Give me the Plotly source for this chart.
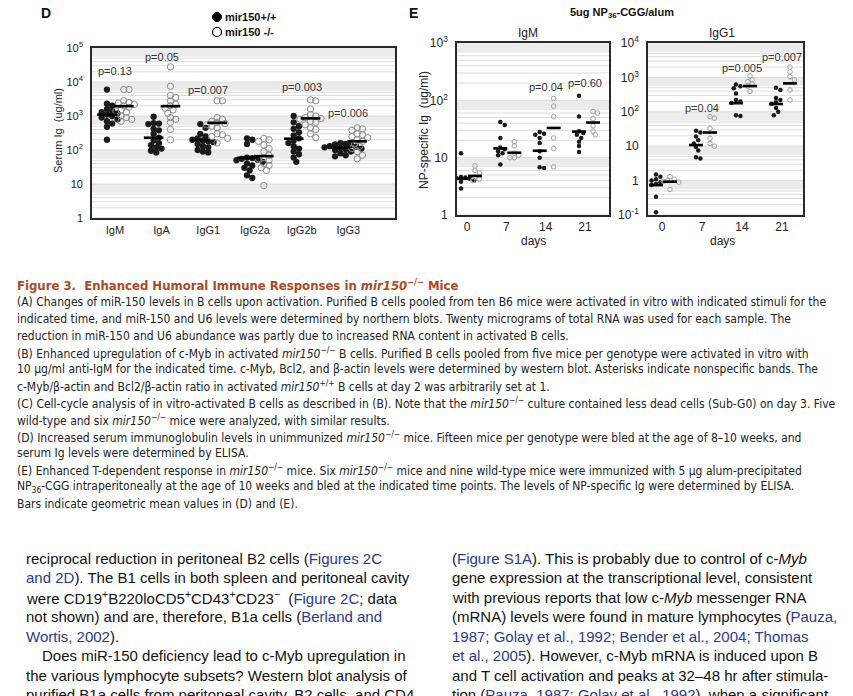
import numpy as np
import plotly.graph_objects as go

W, H = 853, 696

def px(x):
    return x / W

def py(y):
    return 1 - y / H

# ---------------- Panel D data (serum Ig, ug/ml) ----------------
d_categories = ["IgM", "IgA", "IgG1", "IgG2a", "IgG2b", "IgG3"]

d_wt_IgM = [6000, 2300, 2000, 1600, 1400, 1300, 1200, 1100, 1000, 900, 800, 700, 600, 480, 200]
d_ko_IgM = [6000, 6000, 2800, 2500, 2400, 2200, 2000, 1800, 1500, 1400, 1300, 1000, 900, 800, 700]
d_wt_IgA = [950, 620, 600, 580, 420, 380, 300, 230, 190, 160, 140, 120, 110, 95, 85]
d_ko_IgA = [28000, 7500, 4000, 3500, 2800, 2200, 2000, 1700, 1500, 1200, 900, 800, 650, 400, 200]
d_wt_IgG1 = [580, 450, 300, 250, 220, 200, 190, 180, 170, 150, 130, 120, 100, 90, 85]
d_ko_IgG1 = [2800, 2800, 900, 800, 700, 650, 600, 550, 500, 450, 300, 280, 250, 220, 160]
d_wt_IgG2a = [220, 200, 150, 60, 58, 55, 52, 50, 45, 40, 35, 30, 25, 18, 15]
d_ko_IgG2a = [220, 200, 180, 140, 110, 90, 70, 60, 55, 50, 40, 35, 30, 25, 9]
d_wt_IgG2b = [1000, 650, 500, 420, 330, 270, 220, 190, 160, 130, 110, 90, 75, 60, 45]
d_ko_IgG2b = [3000, 2800, 1600, 1100, 1000, 900, 850, 800, 700, 650, 550, 450, 400, 300, 230]
d_wt_IgG3 = [160, 150, 145, 140, 130, 125, 120, 115, 110, 105, 100, 90, 80, 70, 65]
d_ko_IgG3 = [450, 420, 380, 300, 280, 250, 230, 200, 180, 150, 130, 110, 90, 70, 55]

d_wt_means = [1100, 230, 195, 59, 215, 117]
d_ko_means = [1950, 1950, 630, 66, 850, 180]

d_p_labels = ["p=0.13", "p=0.05", "p=0.007", "", "p=0.003", "p=0.006"]
d_p_pos = [21000, 55000, 5800, None, 7100, 1230]

d_wt_groups = [d_wt_IgM, d_wt_IgA, d_wt_IgG1, d_wt_IgG2a, d_wt_IgG2b, d_wt_IgG3]
d_ko_groups = [d_ko_IgM, d_ko_IgA, d_ko_IgG1, d_ko_IgG2a, d_ko_IgG2b, d_ko_IgG3]

# ---------------- Panel E data (NP-specific Ig, ug/ml) ----------------
e_days = ["0", "7", "14", "21"]

e_igm_wt_d0 = [12, 4.6, 4.5, 4.4, 4.3, 4.2, 4.0, 3.8, 2.9]
e_igm_wt_d7 = [42, 37, 22, 15, 14, 13, 12, 11, 7.6]
e_igm_wt_d14 = [28, 26, 25, 22, 18, 13, 10, 6.8, 6.6]
e_igm_wt_d21 = [120, 52, 29, 27, 25, 22, 19, 16, 12.5]
e_igm_ko_d0 = [7.2, 6.0, 5.4, 4.6, 4.2, 4.0]
e_igm_ko_d7 = [19, 16, 12, 11, 10, 10]
e_igm_ko_d14 = [108, 79, 52, 22, 14.5, 6.9]
e_igm_ko_d21 = [64, 60, 48, 36, 29, 25]
e_igm_wt_means = [4.3, 14.5, 13.2, 28.5]
e_igm_ko_means = [4.8, 12.2, 33, 41]
e_igm_p_labels = ["", "", "p=0.04", "p=0.60"]
e_igm_p_pos = [None, None, 170, 200]

e_igg1_wt_d0 = [1.5, 1.3, 1.1, 1.0, 0.9, 0.8, 0.75, 0.34, 0.12]
e_igg1_wt_d7 = [28, 25, 19, 15, 12, 9.5, 7.5, 4.8, 4.4]
e_igg1_wt_d14 = [620, 550, 480, 340, 220, 200, 180, 80, 75]
e_igg1_wt_d21 = [500, 430, 250, 220, 190, 170, 130, 100, 80]
e_igg1_ko_d0 = [1.3, 1.1, 1.0, 0.95, 0.9, 0.55]
e_igg1_ko_d7 = [72, 65, 33, 17, 12, 10]
e_igg1_ko_d14 = [1100, 850, 750, 650, 560, 390]
e_igg1_ko_d21 = [2000, 1450, 1050, 850, 430, 220]
e_igg1_wt_means = [0.74, 10.8, 178, 168]
e_igg1_ko_means = [0.93, 25, 560, 670]
e_igg1_p_labels = ["", "p=0.04", "p=0.005", "p=0.007"]
e_igg1_p_pos = [None, 130, 1860, 4000]

e_igm_wt = [e_igm_wt_d0, e_igm_wt_d7, e_igm_wt_d14, e_igm_wt_d21]
e_igm_ko = [e_igm_ko_d0, e_igm_ko_d7, e_igm_ko_d14, e_igm_ko_d21]
e_igg1_wt = [e_igg1_wt_d0, e_igg1_wt_d7, e_igg1_wt_d14, e_igg1_wt_d21]
e_igg1_ko = [e_igg1_ko_d0, e_igg1_ko_d7, e_igg1_ko_d14, e_igg1_ko_d21]


def swarm(vals, center, unit_px, dec_px, diam):
    """Simple beeswarm: spread points horizontally so markers do not overlap."""
    step = diam * 0.55
    ys = np.log10(np.asarray(vals, dtype=float)) * dec_px
    placed, out = [], []
    for y in ys:
        k = 0
        chosen = None
        while chosen is None:
            cands = [0.0] if k == 0 else [k * step, -k * step]
            for c in cands:
                if all((c - a) ** 2 + (y - b) ** 2 >= diam ** 2 for a, b in placed):
                    chosen = c
                    break
            k += 1
        placed.append((chosen, y))
        out.append(center + chosen / unit_px)
    return out


FONT = "Liberation Sans, Arial, Helvetica, sans-serif"
NARROW = "Liberation Sans Narrow, Arial Narrow, DejaVu Sans Condensed, sans-serif"
INK = "#1a1a1a"
OPEN = "#8a8a8a"

fig = go.Figure()

# ---------- panel geometry (page pixels) ----------
D_box = (92, 395, 48, 218)
EM_box = (457, 609, 43, 215)
EG_box = (648, 803, 43, 215)

D_range = [-0.49, 6.0]
EM_range = [-0.254, 3.61]
EG_range = [-0.35, 3.525]

def unit(box, rng):
    return (box[1] - box[0]) / (rng[1] - rng[0])

def decpx(box, yr):
    return (box[3] - box[2]) / (yr[1] - yr[0])

D_yr, EM_yr, EG_yr = [0, 5], [0, 3], [-1, 4]

# ---------- panel D traces ----------
uD, dD = unit(D_box, D_range), decpx(D_box, D_yr)
off_wt_D, off_ko_D, hw_D = -0.17, 0.19, 0.21
bx, by = [], []
for i, (wt, ko) in enumerate(zip(d_wt_groups, d_ko_groups)):
    fig.add_trace(go.Scatter(x=swarm(wt, i + off_wt_D, uD, dD, 4.8), y=wt, mode="markers",
                             marker=dict(size=6.3, color=INK), xaxis="x", yaxis="y", showlegend=False))
    fig.add_trace(go.Scatter(x=swarm(ko, i + off_ko_D, uD, dD, 4.8), y=ko, mode="markers",
                             marker=dict(size=6.3, symbol="circle-open", color=OPEN, line=dict(width=1)),
                             xaxis="x", yaxis="y", showlegend=False))
    for c, m in ((i + off_wt_D, d_wt_means[i]), (i + off_ko_D, d_ko_means[i])):
        bx += [c - hw_D, c + hw_D, None]
        by += [m, m, None]
fig.add_trace(go.Scatter(x=bx, y=by, mode="lines", line=dict(color="#000", width=2.6),
                         xaxis="x", yaxis="y", showlegend=False))

# ---------- panel E traces ----------
def e_panel(wt_groups, ko_groups, wt_means, ko_means, xa, ya, box, rng, yr):
    u, dp = unit(box, rng), decpx(box, yr)
    ow, ok, hw = -6 / u, 8 / u, 7 / u
    bx, by = [], []
    for i, (wt, ko) in enumerate(zip(wt_groups, ko_groups)):
        fig.add_trace(go.Scatter(x=swarm(wt, i + ow, u, dp, 4.0), y=wt, mode="markers",
                                 marker=dict(size=4.5, color=INK), xaxis=xa, yaxis=ya, showlegend=False))
        fig.add_trace(go.Scatter(x=swarm(ko, i + ok, u, dp, 4.0), y=ko, mode="markers",
                                 marker=dict(size=4.6, symbol="circle-open", color="#a0a0a0", line=dict(width=1)),
                                 xaxis=xa, yaxis=ya, showlegend=False))
        for c, m in ((i + ow, wt_means[i]), (i + ok, ko_means[i])):
            bx += [c - hw, c + hw, None]
            by += [m, m, None]
    fig.add_trace(go.Scatter(x=bx, y=by, mode="lines", line=dict(color="#000", width=2.6),
                             xaxis=xa, yaxis=ya, showlegend=False))

e_panel(e_igm_wt, e_igm_ko, e_igm_wt_means, e_igm_ko_means, "x2", "y2", EM_box, EM_range, EM_yr)
e_panel(e_igg1_wt, e_igg1_ko, e_igg1_wt_means, e_igg1_ko_means, "x3", "y3", EG_box, EG_range, EG_yr)

# ---------- background grid (shapes) ----------
shapes = []
def grid(xref, yref, yr, band):
    for n in range(yr[0], yr[1] + 1):
        if n > yr[0]:
            shapes.append(dict(type="rect", xref=xref + " domain", yref=yref, x0=0, x1=1,
                               y0=10 ** (n - band), y1=10 ** n, fillcolor="#ebebeb",
                               line=dict(width=0), layer="below"))
        if n < yr[1]:
            for k in range(1, 10):
                shapes.append(dict(type="line", xref=xref + " domain", yref=yref, x0=0, x1=1,
                                   y0=k * 10 ** n, y1=k * 10 ** n,
                                   line=dict(color="#dcdcdc", width=1), layer="below"))

grid("x", "y", D_yr, 0.26)
grid("x2", "y2", EM_yr, 0.16)
grid("x3", "y3", EG_yr, 0.26)

# legend markers for panel D
shapes.append(dict(type="circle", xref="paper", yref="paper", x0=px(212.5), x1=px(221.5),
                   y0=py(21.5), y1=py(12.5), fillcolor="#000", line=dict(color="#000", width=1)))
shapes.append(dict(type="circle", xref="paper", yref="paper", x0=px(212.5), x1=px(221.5),
                   y0=py(36.5), y1=py(27.5), fillcolor="rgba(0,0,0,0)", line=dict(color="#000", width=1.2)))

# ---------- axes ----------
def power_text(lo, hi):
    out = []
    for n in range(lo, hi + 1):
        if n == 0:
            out.append("1")
        elif n == 1:
            out.append("10")
        else:
            out.append("10<sup>%d</sup>" % n)
    return out

box_line = dict(showline=True, mirror=True, linecolor="#2a2a2a", linewidth=1.6, zeroline=False, showgrid=False)

layout_axes = dict(
    xaxis=dict(domain=[px(D_box[0]), px(D_box[1])], range=D_range, anchor="y",
               tickmode="array", tickvals=list(range(len(d_categories))), ticktext=d_categories,
               ticks="", tickfont=dict(size=11, color="#222"), ticklabelstandoff=1, **box_line),
    yaxis=dict(domain=[py(D_box[3]), py(D_box[2])], type="log", range=D_yr, anchor="x",
               tickmode="array", tickvals=[10 ** n for n in range(0, 6)], ticktext=power_text(0, 5),
               ticks="", tickfont=dict(size=11, color="#222"), ticklabelstandoff=5, **box_line),
    xaxis2=dict(domain=[px(EM_box[0]), px(EM_box[1])], range=EM_range, anchor="y2",
                tickmode="array", tickvals=list(range(4)), ticktext=e_days,
                ticks="", tickfont=dict(size=12, color="#222"), ticklabelstandoff=0, **box_line),
    yaxis2=dict(domain=[py(EM_box[3]), py(EM_box[2])], type="log", range=EM_yr, anchor="x2",
                tickmode="array", tickvals=[10 ** n for n in range(0, 4)], ticktext=power_text(0, 3),
                ticks="", tickfont=dict(size=12, color="#222"), ticklabelstandoff=5, **box_line),
    xaxis3=dict(domain=[px(EG_box[0]), px(EG_box[1])], range=EG_range, anchor="y3",
                tickmode="array", tickvals=list(range(4)), ticktext=e_days,
                ticks="", tickfont=dict(size=12, color="#222"), ticklabelstandoff=0, **box_line),
    yaxis3=dict(domain=[py(EG_box[3]), py(EG_box[2])], type="log", range=EG_yr, anchor="x3",
                tickmode="array", tickvals=[10 ** n for n in range(-1, 5)],
                ticktext=["10<sup>-1</sup>", "1", "10", "10<sup>2</sup>", "10<sup>3</sup>", "10<sup>4</sup>"],
                ticks="", tickfont=dict(size=12, color="#222"), ticklabelstandoff=5, **box_line),
)

# ---------- annotations ----------
anns = []
def ann(x, y, text, size=11, color="#222", family=FONT, xanchor="left", yanchor="middle", angle=0):
    anns.append(dict(x=px(x), y=py(y), xref="paper", yref="paper", text=text, showarrow=False,
                     xanchor=xanchor, yanchor=yanchor, textangle=angle, borderpad=0,
                     font=dict(size=size, color=color, family=family)))

# p-values in data coordinates
for i, (lab, pos) in enumerate(zip(d_p_labels, d_p_pos)):
    if lab:
        anns.append(dict(x=i, y=np.log10(pos), xref="x", yref="y", text=lab, showarrow=False,
                         font=dict(size=11, color="#333", family=FONT)))
for i, (lab, pos) in enumerate(zip(e_igm_p_labels, e_igm_p_pos)):
    if lab:
        anns.append(dict(x=i, y=np.log10(pos), xref="x2", yref="y2", text=lab, showarrow=False,
                         font=dict(size=11, color="#333", family=FONT)))
for i, (lab, pos) in enumerate(zip(e_igg1_p_labels, e_igg1_p_pos)):
    if lab:
        anns.append(dict(x=i, y=np.log10(pos), xref="x3", yref="y3", text=lab, showarrow=False,
                         font=dict(size=11, color="#333", family=FONT)))

# panel labels & titles
ann(40, 13, "<b>D</b>", size=14, color="#111")
ann(224, 17, "<b>mir150+/+</b>", size=11, color="#111")
ann(224, 32, "<b>mir150 -/-</b>", size=11, color="#111")
ann(58, 131, "Serum Ig  (ug/ml)", size=11, xanchor="center", angle=-90)
ann(408, 13, "<b>E</b>", size=14, color="#111")
ann(622, 13, "<b>5ug NP<sub>36</sub>-CGG/alum</b>", size=11, color="#111", xanchor="center")
ann(528, 33, "IgM", size=12, xanchor="center")
ann(722, 33, "IgG1", size=12, xanchor="center")
ann(533, 241, "days", size=12, xanchor="center")
ann(722, 241, "days", size=12, xanchor="center")
ann(424, 130, "NP-specific Ig  (ug/ml)", size=12, xanchor="center", angle=-90)

# figure caption
KO = "<i>mir150</i><sup>−/−</sup>"
ann(16, 285, "<b>Figure 3.  Enhanced Humoral Immune Responses in <i>mir150</i><sup>−/−</sup> Mice</b>",
    size=13, color="#ad4a1e", family=NARROW)
caption = [
    (302, "(A) Changes of miR-150 levels in B cells upon activation. Purified B cells pooled from ten B6 mice were activated in vitro with indicated stimuli for the"),
    (319, "indicated time, and miR-150 and U6 levels were determined by northern blots. Twenty micrograms of total RNA was used for each sample. The"),
    (336, "reduction in miR-150 and U6 abundance was partly due to increased RNA content in activated B cells."),
    (353, "(B) Enhanced upregulation of c-Myb in activated " + KO + " B cells. Purified B cells pooled from five mice per genotype were activated in vitro with"),
    (369, "10 μg/ml anti-IgM for the indicated time. c-Myb, Bcl2, and β-actin levels were determined by western blot. Asterisks indicate nonspecific bands. The"),
    (386, "c-Myb/β-actin and Bcl2/β-actin ratio in activated <i>mir150</i><sup>+/+</sup> B cells at day 2 was arbitrarily set at 1."),
    (403, "(C) Cell-cycle analysis of in vitro-activated B cells as described in (B). Note that the " + KO + " culture contained less dead cells (Sub-G0) on day 3. Five"),
    (420, "wild-type and six " + KO + " mice were analyzed, with similar results."),
    (437, "(D) Increased serum immunoglobulin levels in unimmunized " + KO + " mice. Fifteen mice per genotype were bled at the age of 8–10 weeks, and"),
    (453, "serum Ig levels were determined by ELISA."),
    (470, "(E) Enhanced T-dependent response in " + KO + " mice. Six " + KO + " mice and nine wild-type mice were immunized with 5 μg alum-precipitated"),
    (487, "NP<sub>36</sub>-CGG intraperitoneally at the age of 10 weeks and bled at the indicated time points. The levels of NP-specific Ig were determined by ELISA."),
    (504, "Bars indicate geometric mean values in (D) and (E)."),
]
for y, t in caption:
    ann(16, y, t, size=12, color="#222", family=NARROW)

# body text (two columns)
L = "<span style='color:#2b3a8c'>%s</span>"
left_col = [
    (25, "reciprocal reduction in peritoneal B2 cells (" + L % "Figures 2C"),
    (25, L % "and 2D" + "). The B1 cells in both spleen and peritoneal cavity"),
    (25, "were CD19<sup>+</sup>B220loCD5<sup>+</sup>CD43<sup>+</sup>CD23<sup>−</sup>  (" + L % "Figure 2C" + "; data"),
    (25, "not shown) and are, therefore, B1a cells (" + L % "Berland and"),
    (25, L % "Wortis, 2002" + ")."),
    (41, "Does miR-150 deficiency lead to c-Myb upregulation in"),
    (25, "the various lymphocyte subsets? Western blot analysis of"),
    (25, "purified B1a cells from peritoneal cavity, B2 cells, and CD4"),
]
right_col = [
    "(" + L % "Figure S1A" + "). This is probably due to control of c-<i>Myb</i>",
    "gene expression at the transcriptional level, consistent",
    "with previous reports that low c-<i>Myb</i> messenger RNA",
    "(mRNA) levels were found in mature lymphocytes (" + L % "Pauza,",
    L % "1987; Golay et al., 1992; Bender et al., 2004; Thomas",
    L % "et al., 2005" + "). However, c-Myb mRNA is induced upon B",
    "and T cell activation and peaks at 32–48 hr after stimula-",
    "tion (" + L % "Pauza, 1987; Golay et al., 1992" + "), when a significant",
]
body_y = [558, 577.5, 597, 616.5, 636, 655.5, 675, 694.5]
for (x, t), y in zip(left_col, body_y):
    ann(x, y, t, size=15, color="#111")
for t, y in zip(right_col, body_y):
    ann(451, y, t, size=15, color="#111")

fig.update_layout(
    width=W, height=H, margin=dict(l=0, r=0, t=0, b=0, autoexpand=False),
    paper_bgcolor="white", plot_bgcolor="white",
    font=dict(family=FONT, color="#222"),
    shapes=shapes, annotations=anns, showlegend=False,
    **layout_axes,
)

fig.write_html("out.html", config={"displayModeBar": False},
               post_script="document.body.style.margin='0';document.body.style.overflow='hidden';")
